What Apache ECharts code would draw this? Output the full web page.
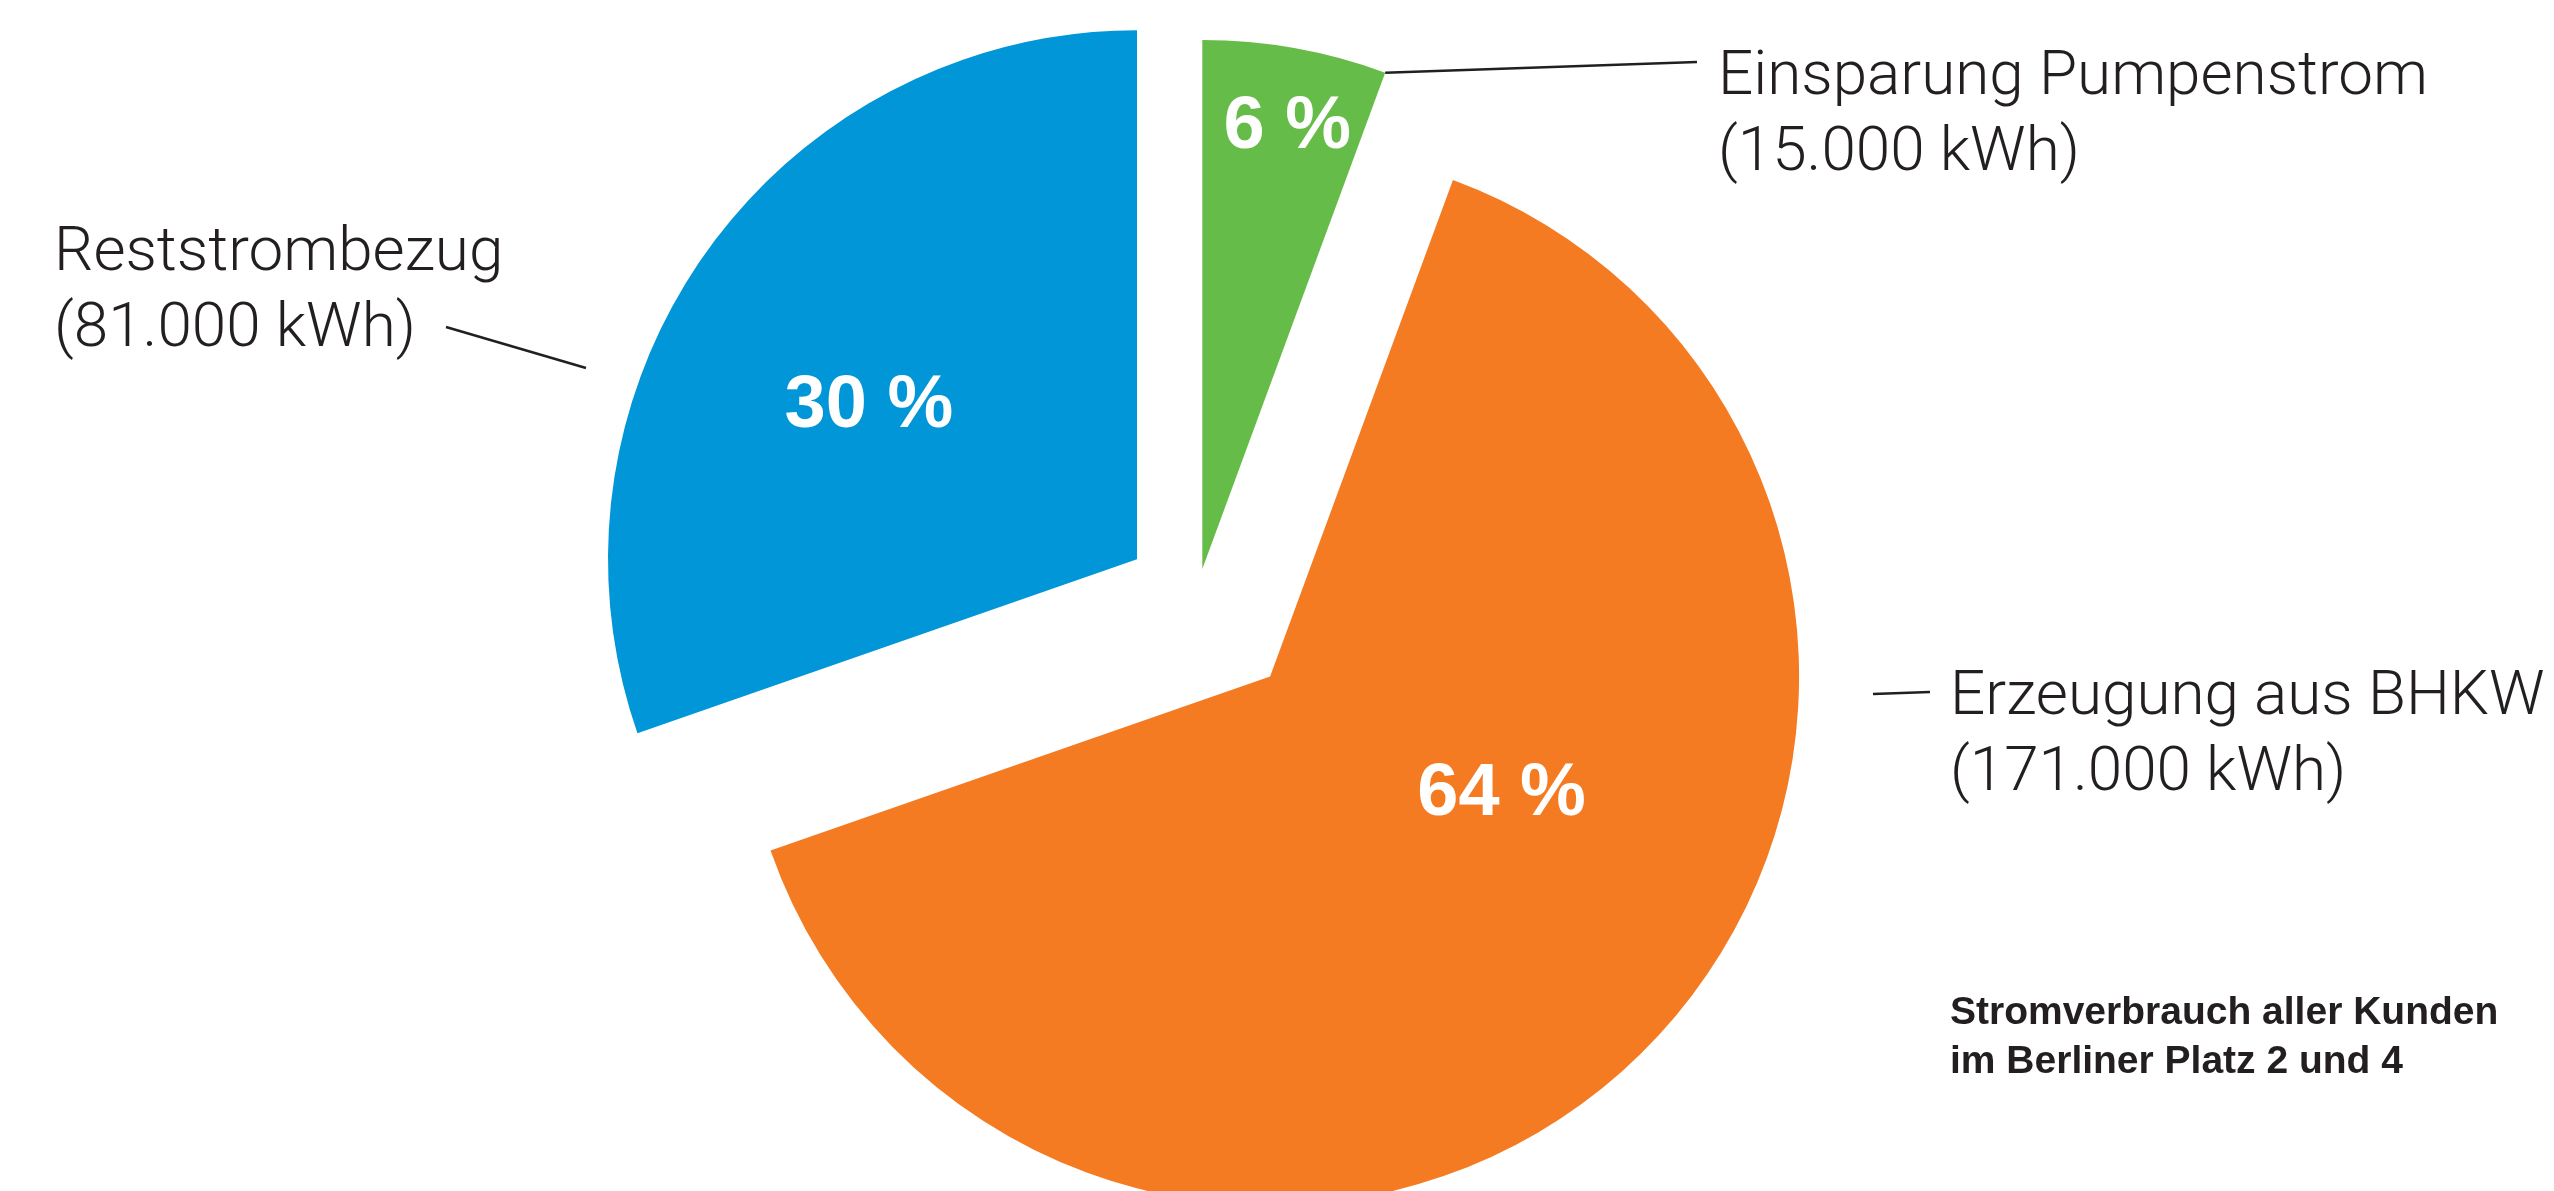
<!DOCTYPE html>
<html><head><meta charset="utf-8">
<script src="https://cdn.jsdelivr.net/npm/echarts/dist/echarts.min.js"></script>
<style>html,body{margin:0;padding:0;background:#fff;} #c{width:2554px;height:1191px;}</style>
</head><body><div id="c"></div>
<script>
// ---- data ----
const categories = ['Einsparung Pumpenstrom', 'Erzeugung aus BHKW', 'Reststrombezug'];
const values = [15000, 171000, 81000];
const unit = 'kWh';
const titleLines = ['Stromverbrauch aller Kunden', 'im Berliner Platz 2 und 4'];
const colors = ['#66bc48', '#f47b22', '#0096d7'];

// ---- layout / style ----
const baseCenter = [1196.5, 601.5];
const radius = 529;
const explode = [33, 105, 73];
const pctLabelShift = [[38, -178], [44, -73], [-50, 2]];
const nameLabelAnchor = [[1718, 116], [1950, 736], [54, 292]];
const leaderStart = [null, [1873, 694], [446, 327]]; // null = outer corner of slice
const leaderEnd = [[1697, 62], [1930, 692], [586, 368]];
const textColor = '#231f20';

const total = values.reduce((a, b) => a + b, 0);
let cum = 0;
const arcs = values.map(v => { const a0 = cum / total * 360; cum += v; const a1 = cum / total * 360; return {a0, a1, mid: (a0 + a1) / 2}; });
const rad = d => d * Math.PI / 180;
const dir = d => [Math.sin(rad(d)), -Math.cos(rad(d))];
const centers = arcs.map((a, i) => { const d = dir(a.mid); return [baseCenter[0] + explode[i] * d[0], baseCenter[1] + explode[i] * d[1]]; });
function startPoint(i) {
  if (leaderStart[i]) return leaderStart[i];
  const d = dir(arcs[i].a1);
  return [centers[i][0] + radius * d[0], centers[i][1] + radius * d[1]];
}
const fmt = v => String(v).replace(/\B(?=(\d{3})+(?!\d))/g, '.');

const sliceSeries = values.map((_, i) => ({
  type: 'pie', center: centers[i], radius: radius, startAngle: 90, clockwise: true,
  silent: true, animation: false, avoidLabelOverlap: false, z: 2,
  emphasis: {disabled: true},
  itemStyle: {borderWidth: 0},
  data: categories.map((n, j) => ({
    name: n, value: values[j],
    itemStyle: {color: j === i ? colors[j] : 'rgba(0,0,0,0)', borderWidth: 0},
    label: {show: j === i},
    labelLine: {show: false}
  })),
  label: {position: 'inside', formatter: p => Math.round(p.percent) + ' %', color: '#ffffff',
    fontFamily: 'Liberation Sans, Arial, sans-serif', fontWeight: 'bold', fontSize: 74},
  labelLayout: p => p.dataIndex === i ? {dx: pctLabelShift[i][0], dy: pctLabelShift[i][1]} : {}
}));

const labelSeries = {
  type: 'pie', center: baseCenter, radius: radius, startAngle: 90, clockwise: true,
  silent: true, animation: false, avoidLabelOverlap: false, z: 3,
  emphasis: {disabled: true},
  itemStyle: {color: 'rgba(0,0,0,0)', borderWidth: 0},
  data: categories.map((n, j) => ({name: n, value: values[j]})),
  label: {position: 'outside', overflow: 'none', formatter: p => p.name + '\n(' + fmt(p.value) + ' ' + unit + ')',
    color: textColor, fontFamily: 'Roboto', fontWeight: 300, fontSize: 62, lineHeight: 76},
  labelLine: {show: true, lineStyle: {color: textColor, width: 2.5}},
  labelLayout: p => {
    const i = p.dataIndex;
    return {x: nameLabelAnchor[i][0], y: nameLabelAnchor[i][1], align: 'left', verticalAlign: 'middle',
      labelLinePoints: [startPoint(i), leaderEnd[i], leaderEnd[i]]};
  }
};

const chart = echarts.init(document.getElementById('c'));
chart.setOption({
  backgroundColor: '#ffffff',
  animation: false,
  title: {text: titleLines.join('\n'), left: 1950, top: 989, padding: 0,
    textStyle: {fontFamily: 'Liberation Sans, Arial, sans-serif', fontWeight: 'bold', fontSize: 39, lineHeight: 49, color: textColor}},
  series: sliceSeries.concat([labelSeries])
});
</script></body></html>
